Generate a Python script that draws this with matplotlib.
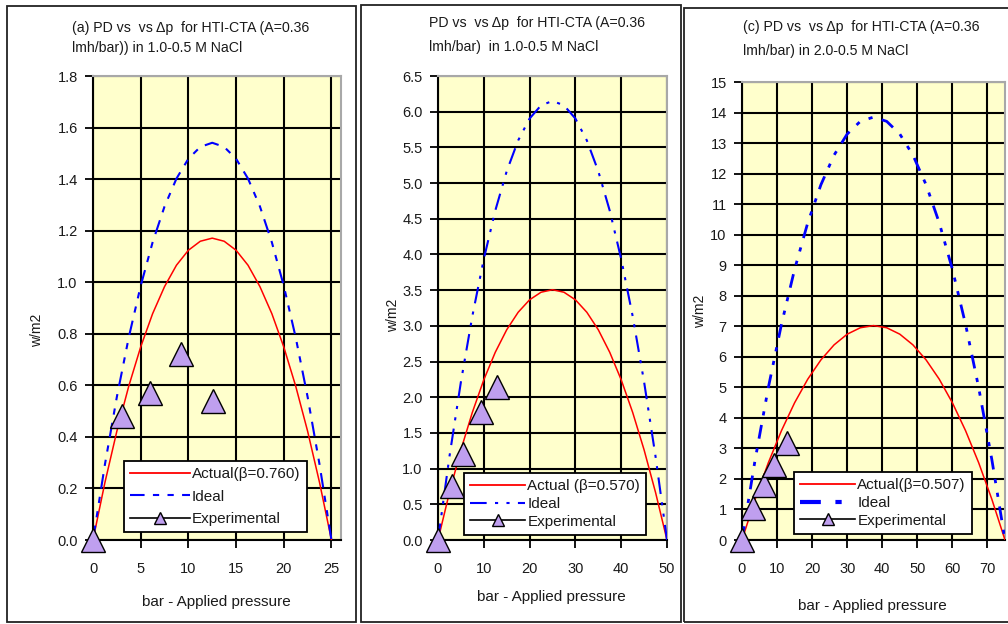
import matplotlib
matplotlib.use("Agg")
import matplotlib.pyplot as plt
from matplotlib.lines import Line2D
from matplotlib.patches import Rectangle
from matplotlib.ticker import FormatStrFormatter, MultipleLocator

plt.rcParams['font.family'] = ['Liberation Sans', 'DejaVu Sans']

# ---------------- data ----------------
# panel (a)
a_x = [0, 1.25, 2.5, 3.75, 5, 6.25, 7.5, 8.75, 10, 11.25, 12.5,
       13.75, 15, 16.25, 17.5, 18.75, 20, 21.25, 22.5, 23.75, 25]
a_ideal = [0, 0.293, 0.555, 0.786, 0.986, 1.155, 1.294, 1.402, 1.479, 1.525, 1.541,
           1.525, 1.479, 1.402, 1.294, 1.155, 0.986, 0.786, 0.555, 0.293, 0]
a_actual = [0, 0.223, 0.422, 0.597, 0.749, 0.878, 0.983, 1.066, 1.124, 1.159, 1.171,
            1.159, 1.124, 1.066, 0.983, 0.878, 0.749, 0.597, 0.422, 0.223, 0]
a_exp_x = [0, 3.0, 6.0, 9.2, 12.6]
a_exp_y = [0.0, 0.48, 0.57, 0.72, 0.54]

# panel (b)
b_x = [0, 2.5, 5, 7.5, 10, 12.5, 15, 17.5, 20, 22.5, 25,
       27.5, 30, 32.5, 35, 37.5, 40, 42.5, 45, 47.5, 50]
b_ideal = [0, 1.169, 2.214, 3.137, 3.936, 4.613, 5.166, 5.597, 5.904, 6.089, 6.150,
           6.089, 5.904, 5.597, 5.166, 4.613, 3.936, 3.137, 2.214, 1.169, 0]
b_actual = [0, 0.666, 1.262, 1.788, 2.244, 2.629, 2.945, 3.190, 3.365, 3.471, 3.506,
            3.471, 3.365, 3.190, 2.945, 2.629, 2.244, 1.788, 1.262, 0.666, 0]
b_exp_x = [0, 3.0, 5.5, 9.4, 12.9]
b_exp_y = [0.0, 0.76, 1.20, 1.80, 2.14]

# panel (c)
c_x = [0, 3.75, 7.5, 11.25, 15, 18.75, 22.5, 26.25, 30, 33.75, 37.5,
       41.25, 45, 48.75, 52.5, 56.25, 60, 63.75, 67.5, 71.25, 75]
c_ideal = [0, 2.632, 4.986, 7.063, 8.864, 10.388, 11.634, 12.604, 13.296, 13.712, 13.850,
           13.712, 13.296, 12.604, 11.634, 10.388, 8.864, 7.063, 4.986, 2.632, 0]
c_actual = [0, 1.334, 2.528, 3.581, 4.494, 5.267, 5.898, 6.390, 6.741, 6.952, 7.022,
            6.952, 6.741, 6.390, 5.898, 5.267, 4.494, 3.581, 2.528, 1.334, 0]
c_exp_x = [0, 3.2, 6.3, 9.1, 12.9]
c_exp_y = [0.0, 1.05, 1.79, 2.46, 3.19]

titles = [
    ("(a) PD vs  vs \u0394p  for HTI-CTA (A=0.36", "lmh/bar)) in 1.0-0.5 M NaCl"),
    ("PD vs  vs \u0394p  for HTI-CTA (A=0.36", "lmh/bar)  in 1.0-0.5 M NaCl"),
    ("(c) PD vs  vs \u0394p  for HTI-CTA (A=0.36", "lmh/bar) in 2.0-0.5 M NaCl"),
]
actual_labels = ["Actual(\u03b2=0.760)", "Actual (\u03b2=0.570)", "Actual(\u03b2=0.507)"]
xlabel = "bar - Applied pressure"
ylabel = "w/m2"

# ---------------- layout ----------------
W, H = 1008, 624
fig = plt.figure(figsize=(W / 100, H / 100), dpi=100)
fig.patch.set_facecolor('white')

def rect(l, t, r, b):
    return [l / W, 1 - b / H, (r - l) / W, (b - t) / H]

def fx(x):
    return x / W

def fy(y):
    return 1 - y / H

# panel borders
for (l, t, r, b) in [(7, 6, 356, 622), (361, 5, 681, 622), (684, 8, 1012, 622)]:
    fig.patches.append(Rectangle((fx(l), fy(b)), fx(r - l), (b - t) / H,
                                 transform=fig.transFigure, fill=False,
                                 edgecolor='#222222', linewidth=1.3))

panels = [
    dict(rect=(93, 76, 341, 540), xlim=(0, 26), ylim=(0, 1.8), xstep=5, ystep=0.2, fmt='%.1f',
         x=a_x, ideal=a_ideal, actual=a_actual, ex=a_exp_x, ey=a_exp_y,
         title_xy=(72, 28, 48), xl_xy=(216, 602), yl_xy=(37, 330),
         leg=(124, 461), lspace=0.55, hlen=3.9,
         ideal_ls=(0, (7, 4, 3, 4, 3, 4)), ideal_lw=1.5, leg_lw=1.5),
    dict(rect=(438, 76, 667, 540), xlim=(0, 50), ylim=(0, 6.5), xstep=10, ystep=0.5, fmt='%.1f',
         x=b_x, ideal=b_ideal, actual=b_actual, ex=b_exp_x, ey=b_exp_y,
         title_xy=(429, 23, 47), xl_xy=(551, 597), yl_xy=(393, 315),
         leg=(464, 473), lspace=0.25, hlen=3.6,
         ideal_ls=(0, (8, 4, 1.5, 4, 1.5, 4)), ideal_lw=1.5, leg_lw=1.5),
    dict(rect=(742, 82, 1005, 540), xlim=(0, 75), ylim=(0, 15), xstep=10, ystep=1, fmt='%d',
         x=c_x, ideal=c_ideal, actual=c_actual, ex=c_exp_x, ey=c_exp_y,
         title_xy=(743, 27, 51), xl_xy=(872, 606), yl_xy=(700, 311),
         leg=(794, 472), lspace=0.25, hlen=3.6,
         ideal_ls=(0, (5, 3.5, 1.5, 3.5, 1.5, 3.5)), ideal_lw=2.0, leg_lw=3.0),
]

text_color = '#1a1a1a'
marker_face = '#BF9FEF'

for i, p in enumerate(panels):
    ax = fig.add_axes(rect(*p['rect']))
    ax.set_facecolor('#FFFFCC')
    ax.set_xlim(*p['xlim'])
    ax.set_ylim(*p['ylim'])
    ax.xaxis.set_major_locator(MultipleLocator(p['xstep']))
    ax.yaxis.set_major_locator(MultipleLocator(p['ystep']))
    ax.yaxis.set_major_formatter(FormatStrFormatter(p['fmt']))
    ax.grid(True, color='black', linewidth=1.5)
    ax.set_axisbelow(True)
    for s in ['left', 'bottom']:
        ax.spines[s].set_color('black')
        ax.spines[s].set_linewidth(1.5)
    for s in ['top', 'right']:
        ax.spines[s].set_color('#A8A8A8')
        ax.spines[s].set_linewidth(1.5)
    ax.tick_params(axis='both', direction='out', length=6, width=1.3, color='black',
                   labelsize=10.5, labelcolor=text_color)
    ax.tick_params(axis='x', pad=10)
    ax.tick_params(axis='y', pad=5)

    ax.plot(p['x'], p['actual'], color='red', linewidth=1.1, zorder=3)
    ax.plot(p['x'], p['ideal'], color='blue', linewidth=p['ideal_lw'],
            linestyle=p['ideal_ls'], zorder=3)
    ax.plot(p['ex'], p['ey'], linestyle='none', marker='^', markersize=17,
            markerfacecolor=marker_face, markeredgecolor='black', markeredgewidth=1.0,
            zorder=4, clip_on=False)

    handles = [
        Line2D([], [], color='red', linewidth=1.3),
        Line2D([], [], color='blue', linewidth=p['leg_lw'], linestyle=p['ideal_ls']),
        Line2D([], [], color='black', linewidth=1.2, marker='^', markersize=9,
               markerfacecolor=marker_face, markeredgecolor='black'),
    ]
    lx, ly = p['leg']
    leg = ax.legend(handles, [actual_labels[i], "Ideal", "Experimental"],
                    loc='upper left', bbox_to_anchor=(fx(lx), fy(ly)),
                    bbox_transform=fig.transFigure, borderaxespad=0,
                    fontsize=11, handlelength=p['hlen'], handletextpad=0.15,
                    labelspacing=p['lspace'], borderpad=0.4, fancybox=False,
                    framealpha=1, edgecolor='black', facecolor='white')
    leg.get_frame().set_linewidth(1.3)
    for t in leg.get_texts():
        t.set_color(text_color)

    tx, ty1, ty2 = p['title_xy']
    fig.text(fx(tx), fy(ty1), titles[i][0], fontsize=10.2, color=text_color,
             ha='left', va='center')
    fig.text(fx(tx), fy(ty2), titles[i][1], fontsize=10.2, color=text_color,
             ha='left', va='center')
    fig.text(fx(p['xl_xy'][0]), fy(p['xl_xy'][1]), xlabel, fontsize=11,
             color=text_color, ha='center', va='center')
    fig.text(fx(p['yl_xy'][0]), fy(p['yl_xy'][1]), ylabel, fontsize=10,
             color=text_color, ha='center', va='center', rotation=90)

fig.savefig('out.png', dpi=100, facecolor='white')
